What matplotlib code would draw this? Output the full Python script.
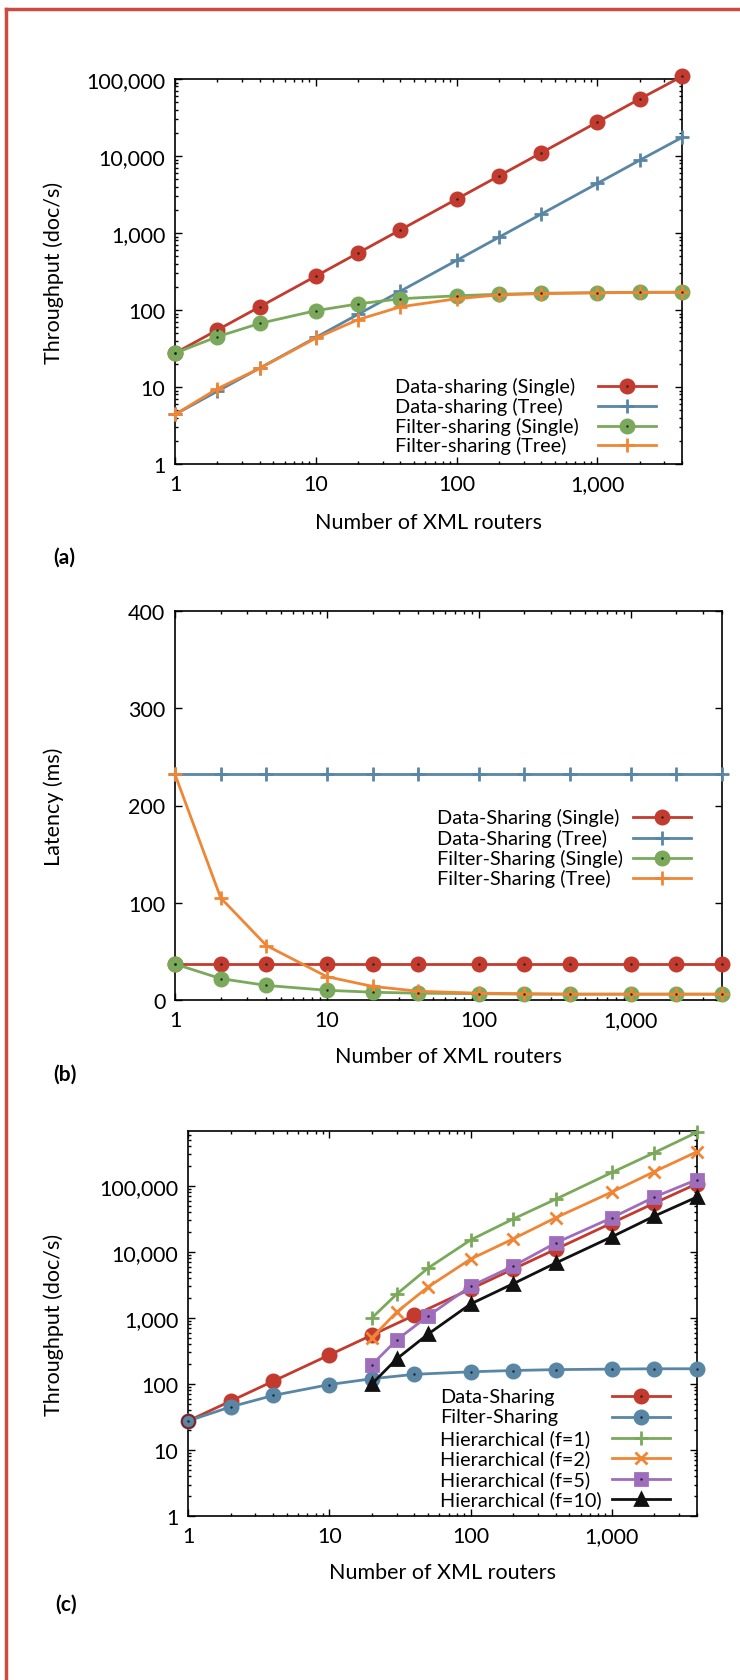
import matplotlib
matplotlib.use('Agg')
import matplotlib.pyplot as plt
import matplotlib.ticker as mticker
from matplotlib.lines import Line2D

W, H = 740, 1681

routers = [1, 2, 4, 10, 20, 40, 100, 200, 400, 1000, 2000, 4000]
hier_routers = [20, 30, 50, 100, 200, 400, 1000, 2000, 4000]

# (a) throughput, doc/s
tp_data_single = [27.5, 55, 110, 275, 550, 1100, 2750, 5500, 11000, 27500, 55000, 108000]
tp_data_tree = [4.4, 8.8, 17.6, 44, 88, 176, 440, 880, 1760, 4400, 8800, 17400]
tp_filter_single = [27.5, 45, 67, 98, 120, 140, 153, 160, 165, 168, 170, 170]
tp_filter_tree = [4.4, 9.5, 17.5, 43, 75, 110, 140, 157, 163, 167, 169, 170]

# (b) latency, ms
lat_data_single = [37, 37, 37, 37, 37, 37, 37, 37, 37, 37, 37, 37]
lat_data_tree = [232, 232, 232, 232, 232, 232, 232, 232, 232, 232, 232, 232]
lat_filter_single = [37, 22, 15, 10, 8, 7, 6.5, 6, 6, 6, 6, 6]
lat_filter_tree = [232, 105, 56, 24, 14, 9, 7, 6.5, 6, 6, 6, 6]

# (c) throughput incl. hierarchical
hier_f1 = [1000, 2300, 5700, 15200, 31600, 63000, 160000, 320000, 650000]
hier_f2 = [500, 1230, 2950, 7800, 15800, 33000, 81000, 165000, 330000]
hier_f5 = [195, 465, 1070, 3030, 6100, 13700, 33000, 68000, 125000]
hier_f10 = [100, 240, 570, 1630, 3300, 6800, 17000, 35000, 68000]

RED = '#c33b2e'
BLUE = '#5a86a5'
GREEN = '#7aa95c'
ORANGE = '#ef8636'
PURPLE = '#9e6ebd'
BLACK = '#111111'

TICK_FS = 15.5
LABEL_FS = 15.5
KEY_FS = 14.3

plt.rcParams['font.family'] = ['Lato', 'DejaVu Sans']
plt.rcParams['font.size'] = LABEL_FS

fig = plt.figure(figsize=(W / 100, H / 100), dpi=100)


def box(left, right, top, bottom):
  return [left / W, 1 - bottom / H, (right - left) / W, (bottom - top) / H]


def fx(px):
  return px / W


def fy(py):
  return 1 - py / H


def style_axes(ax, log_y=True):
  ax.set_xscale('log')
  ax.xaxis.set_major_locator(mticker.LogLocator(base=10))
  ax.xaxis.set_minor_locator(mticker.LogLocator(base=10, subs=range(2, 10)))
  ax.xaxis.set_minor_formatter(mticker.NullFormatter())
  ax.xaxis.set_major_formatter(mticker.FuncFormatter(lambda v, p: f'{int(round(v)):,}'))
  if log_y:
    ax.set_yscale('log')
    ax.yaxis.set_major_locator(mticker.LogLocator(base=10))
    ax.yaxis.set_minor_locator(mticker.LogLocator(base=10, subs=range(2, 10)))
    ax.yaxis.set_minor_formatter(mticker.NullFormatter())
    ax.yaxis.set_major_formatter(mticker.FuncFormatter(lambda v, p: f'{int(round(v)):,}'))
  ax.tick_params(which='both', direction='in', top=True, right=True, width=1)
  ax.tick_params(which='major', length=5, pad=7, labelsize=TICK_FS)
  ax.tick_params(which='minor', length=2.5)
  for s in ax.spines.values():
    s.set_linewidth(1.2)


def series(ax, x, y, color, marker, ms, dot=False, **kw):
  ax.plot(x, y, color=color, lw=2, marker=marker, ms=ms, mew=2, clip_on=False, zorder=3, **kw)
  if dot:
    ax.plot(x, y, ls='none', marker='.', ms=1.5, color='#222222', clip_on=False, zorder=4)


def key(entries, x_text, x_line, rows):
  for (label, color, marker, ms, dot), y in zip(entries, rows):
    fig.text(fx(x_text), fy(y), label, ha='left', va='center', fontsize=KEY_FS)
    fig.add_artist(Line2D([fx(x_line), fx(x_line + 58)], [fy(y), fy(y)], color=color, lw=2))
    fig.add_artist(Line2D([fx(x_line + 29)], [fy(y)], color=color, marker=marker, ms=ms, mew=2))
    if dot:
      fig.add_artist(Line2D([fx(x_line + 29)], [fy(y)], color='#222222', marker='.', ms=1.5))


# ---- (a)
ax_a = fig.add_axes(box(175, 682, 80, 465))
style_axes(ax_a)
series(ax_a, routers, tp_data_single, RED, 'o', 9.5, dot=True)
series(ax_a, routers, tp_data_tree, BLUE, '+', 10)
series(ax_a, routers, tp_filter_single, GREEN, 'o', 9.5, dot=True)
series(ax_a, routers, tp_filter_tree, ORANGE, '+', 10)
ax_a.set_xlim(1, 4000)
ax_a.set_ylim(1, 100000)
ax_a.set_ylabel('Throughput (doc/s)')
ax_a.yaxis.set_label_coords((64 - 175) / 507, 0.5)
ax_a.set_xlabel('Number of XML routers')
ax_a.xaxis.set_label_coords(0.5, -(513 - 465) / 385)
key([('Data-sharing (Single)', RED, 'o', 9.5, True),
     ('Data-sharing (Tree)', BLUE, '+', 10, False),
     ('Filter-sharing (Single)', GREEN, 'o', 9.5, True),
     ('Filter-sharing (Tree)', ORANGE, '+', 10, False)],
    395, 598, [387, 407, 427, 446])
fig.text(fx(53), fy(558), '(a)', fontweight='bold', va='center', fontsize=15)

# ---- (b)
ax_b = fig.add_axes(box(175, 722, 612, 1001))
style_axes(ax_b, log_y=False)
series(ax_b, routers, lat_data_single, RED, 'o', 9.5, dot=True)
series(ax_b, routers, lat_data_tree, BLUE, '+', 10)
series(ax_b, routers, lat_filter_single, GREEN, 'o', 9.5, dot=True)
series(ax_b, routers, lat_filter_tree, ORANGE, '+', 10)
ax_b.set_xlim(1, 4000)
ax_b.set_ylim(0, 400)
ax_b.yaxis.set_major_locator(mticker.MultipleLocator(100))
ax_b.set_ylabel('Latency (ms)')
ax_b.yaxis.set_label_coords((64 - 175) / 547, 0.5)
ax_b.set_xlabel('Number of XML routers')
ax_b.xaxis.set_label_coords(0.5, -(1047 - 1001) / 389)
key([('Data-Sharing (Single)', RED, 'o', 9.5, True),
     ('Data-Sharing (Tree)', BLUE, '+', 10, False),
     ('Filter-Sharing (Single)', GREEN, 'o', 9.5, True),
     ('Filter-Sharing (Tree)', ORANGE, '+', 10, False)],
    437, 633, [818, 839, 859, 879])
fig.text(fx(53), fy(1075), '(b)', fontweight='bold', va='center', fontsize=15)

# ---- (c)
ax_c = fig.add_axes(box(188, 697, 1132, 1517))
style_axes(ax_c)
ax_c.plot(routers, tp_data_single, color=RED, lw=2, marker='o', ms=9.5, mew=2,
          markevery=list(range(1, len(routers))), clip_on=False, zorder=3)
ax_c.plot(routers[:1], tp_data_single[:1], ls='none', marker='o', ms=9.5, mew=1.3,
          mfc='none', mec='#8a1c14', clip_on=False, zorder=5)
series(ax_c, routers, tp_filter_single, BLUE, 'o', 9.5, dot=True)
series(ax_c, hier_routers, hier_f1, GREEN, '+', 10)
series(ax_c, hier_routers, hier_f2, ORANGE, 'x', 9)
series(ax_c, hier_routers, hier_f5, PURPLE, 's', 8, dot=True)
series(ax_c, hier_routers, hier_f10, BLACK, '^', 8)
ax_c.set_xlim(1, 4000)
ax_c.set_ylim(1, 680000)
ax_c.set_ylabel('Throughput (doc/s)')
ax_c.yaxis.set_label_coords((64 - 188) / 509, 0.5)
ax_c.set_xlabel('Number of XML routers')
ax_c.xaxis.set_label_coords(0.5, -(1563 - 1517) / 385)
key([('Data-Sharing', RED, 'o', 9.5, True),
     ('Filter-Sharing', BLUE, 'o', 9.5, True),
     ('Hierarchical (f=1)', GREEN, '+', 10, False),
     ('Hierarchical (f=2)', ORANGE, 'x', 9, False),
     ('Hierarchical (f=5)', PURPLE, 's', 8, True),
     ('Hierarchical (f=10)', BLACK, '^', 8, False)],
    440, 612, [1397, 1418, 1439, 1459, 1480, 1500])
fig.text(fx(55), fy(1605), '(c)', fontweight='bold', va='center', fontsize=15)

# red frame (only top and left edges fall inside the picture)
fig.add_artist(Line2D([fx(6), 1.0], [fy(10), fy(10)], color='#cd4a40', lw=2.5))
fig.add_artist(Line2D([fx(6), fx(6)], [fy(10), 0.0], color='#cd4a40', lw=2.5))

fig.savefig('out.png', dpi=100)
